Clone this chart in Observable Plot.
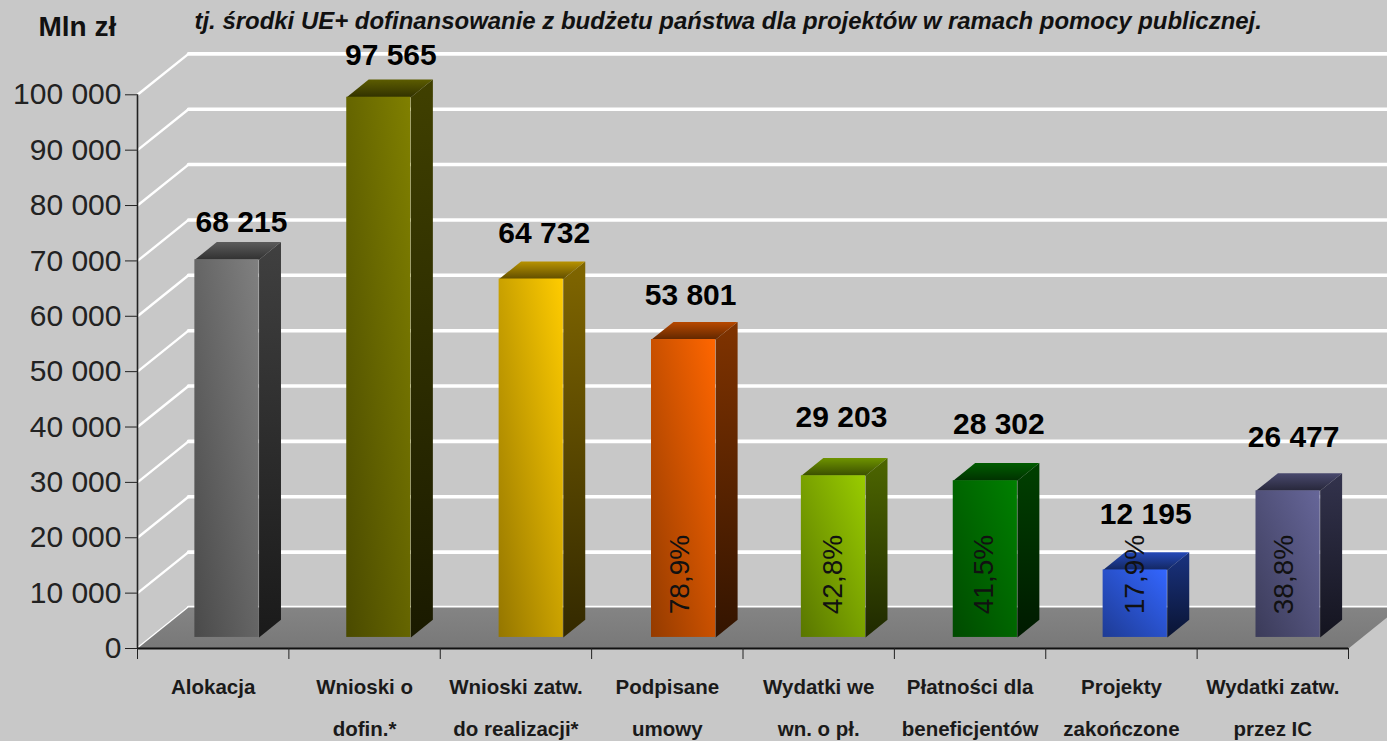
<!DOCTYPE html>
<html lang="pl">
<head>
<meta charset="utf-8">
<style>html,body{margin:0;padding:0;background:#c8c8c8;overflow:hidden}svg{display:block}</style>
<script src="https://cdn.jsdelivr.net/npm/d3@7"></script>
<script src="https://cdn.jsdelivr.net/npm/@observablehq/plot@0.6"></script>
</head>
<body>
<script>
const categories = ["Alokacja","Wnioski o\ndofin.*","Wnioski zatw.\ndo realizacji*","Podpisane\numowy","Wydatki we\nwn. o pł.","Płatności dla\nbeneficjentów","Projekty\nzakończone","Wydatki zatw.\nprzez IC"];
const values = [68215,97565,64732,53801,29203,28302,12195,26477];
const percents = [null,null,null,78.9,42.8,41.5,17.9,38.8];
const colors = ["#808080","#808000","#ffcc00","#ff6600","#99cc00","#008000","#3366ff","#666699"];
const yTicks = [0,10000,20000,30000,40000,50000,60000,70000,80000,90000,100000];
const unit = "Mln zł";
const note = "tj. środki UE+ dofinansowanie z budżetu państwa dla projektów w ramach pomocy publicznej.";

// Layout: oblique depth of the chart box, in scale units, and hand-placed nudges in pixels.
const depthX = 0.337, depthY = 7400, barWidth = 0.424, barFront = 0.27, barBack = 0.70;
const barNudge = [0,0.5,1.5,2.5,1,1.5,0,1.5];
const labelDx = [14.5,12,13,7,8,13.5,10.5,5.5];
const labelDy = [-48,-53,-57,-55,-69,-67,-67,-65];
const percentDx = [0,0,0,-4,0,-1,0,-4];

const fmt = v => d3.format(",")(v).replace(/,/g," ");
const at = (x,v,d,id) => ({x:x+d*depthX, y:v+d*depthY, id});
const shade = (c,k) => { const r=d3.rgb(c); return d3.rgb(r.r*k,r.g*k,r.b*k).formatHex(); };

const bars = values.map((v,i)=>({i,v,cat:categories[i],pct:percents[i],c:colors[i],
  x:i+0.5+barFront*depthX+barNudge[i]/151.4}));

const sides = bars.flatMap(b=>{const r=b.x+barWidth/2-barFront*depthX; const o=`side${b.i}`;
  return [at(r,0,barFront,o),at(r,b.v,barFront,o),at(r,b.v,barBack,o),at(r,0,barBack,o)].map(p=>({...p,fill:`url(#side${b.i})`}));});
const tops = bars.flatMap(b=>{const cx=b.x-barFront*depthX,l=cx-barWidth/2,r=cx+barWidth/2; const o=`top${b.i}`;
  return [at(l,b.v,barFront,o),at(r,b.v,barFront,o),at(r,b.v,barBack,o),at(l,b.v,barBack,o)].map(p=>({...p,fill:`url(#top${b.i})`}));});
const floor = [at(0,0,0,"f"),at(8,0,0,"f"),at(8,0,1,"f"),at(0,0,1,"f")];
const wallLines = yTicks.flatMap(v=>[at(0,v,1,v),at(8,v,1,v)]);
const sideLines = yTicks.flatMap(v=>[at(0,v,0,v),at(0,v,1,v)]);

const defsMark = () => {
  const g = d3.create("svg:g"), defs = g.append("defs");
  const grad = (id,x1,y1,x2,y2,a,b) => { const lg = defs.append("linearGradient").attr("id",id)
      .attr("x1",x1).attr("y1",y1).attr("x2",x2).attr("y2",y2);
    lg.append("stop").attr("offset",0).attr("stop-color",a);
    lg.append("stop").attr("offset",1).attr("stop-color",b); };
  colors.forEach((c,i)=>{
    grad(`front${i}`,0,1,1,0,shade(c,0.58),c);
    grad(`side${i}`,0,1,0,0,shade(c,0.2),shade(c,0.5));
    grad(`top${i}`,0,1,0,0,shade(c,0.38),shade(c,0.72));
  });
  grad("floorG",0,0,0,1,"#848484","#787878");
  return g.node();
};

const poly = (data,o={}) => Plot.line(data,{x:"x",y:"y",z:"id",curve:"linear-closed",stroke:"none",...o});

const chart = Plot.plot({
  width:1387, height:741,
  marginLeft:137, marginRight:39, marginTop:94.3, marginBottom:93,
  x:{domain:[0,8], axis:null},
  y:{domain:[0,100000], axis:null},
  color:{type:"identity"},
  style:{background:"#c8c8c8", fontFamily:"'Liberation Sans',Arial,sans-serif", color:"#111"},
  marks:[
    defsMark,
    Plot.line(wallLines,{x:"x",y:"y",z:"id",stroke:"#fff",strokeWidth:3.6}),
    Plot.line(sideLines,{x:"x",y:"y",z:"id",stroke:"#fff",strokeWidth:2.4}),
    poly(floor,{fill:"url(#floorG)"}),
    poly(sides,{fill:"fill"}),
    poly(tops,{fill:"fill"}),
    Plot.rect(bars,{x1:b=>b.x-barWidth/2,x2:b=>b.x+barWidth/2,y1:barFront*depthY,y2:b=>b.v+barFront*depthY,
      fill:b=>`url(#front${b.i})`,inset:0}),
    Plot.ruleX([0],{y1:0,y2:100000,stroke:"#222",strokeWidth:1.6}),
    Plot.ruleY([0],{x1:0,x2:8,stroke:"#111",strokeWidth:2}),
    Plot.axisY({ticks:yTicks,tickFormat:fmt,tickSize:12,tickPadding:4,fontSize:30,stroke:"#222",strokeOpacity:1,label:null,color:"#222"}),
    Plot.axisX({ticks:d3.range(9),text:null,tickSize:11,stroke:"#222",strokeOpacity:1,label:null}),
    Plot.text(bars,{x:b=>b.i+0.5,y:0,text:"cat",dy:16,lineAnchor:"top",lineHeight:2.05,fontSize:20.5,fontWeight:"bold",fill:"#1a1a1a"}),
    ...bars.map((b,i)=>Plot.text([b],{x:"x",y:"v",text:b=>fmt(b.v),dx:labelDx[i],dy:labelDy[i],fontSize:30,fontWeight:"bold",fill:"#000"})),
    ...bars.filter(b=>b.pct!=null).map(b=>Plot.text([b],{x:"x",y:0,text:b=>d3.format(".1f")(b.pct).replace(".",",")+"%",rotate:-90,dx:percentDx[b.i],dy:-74,fontSize:28,fill:"#111"})),
    Plot.text([unit],{frameAnchor:"top-left",dx:-99,dy:-79,lineAnchor:"top",fontSize:28,fontWeight:"bold",fill:"#111"}),
    Plot.text([note],{frameAnchor:"top-left",dx:57,dy:-83,lineAnchor:"top",fontSize:23.95,fontWeight:"bold",fontStyle:"italic",fill:"#111"})
  ]
});
document.body.append(chart);
</script>
</body>
</html>
